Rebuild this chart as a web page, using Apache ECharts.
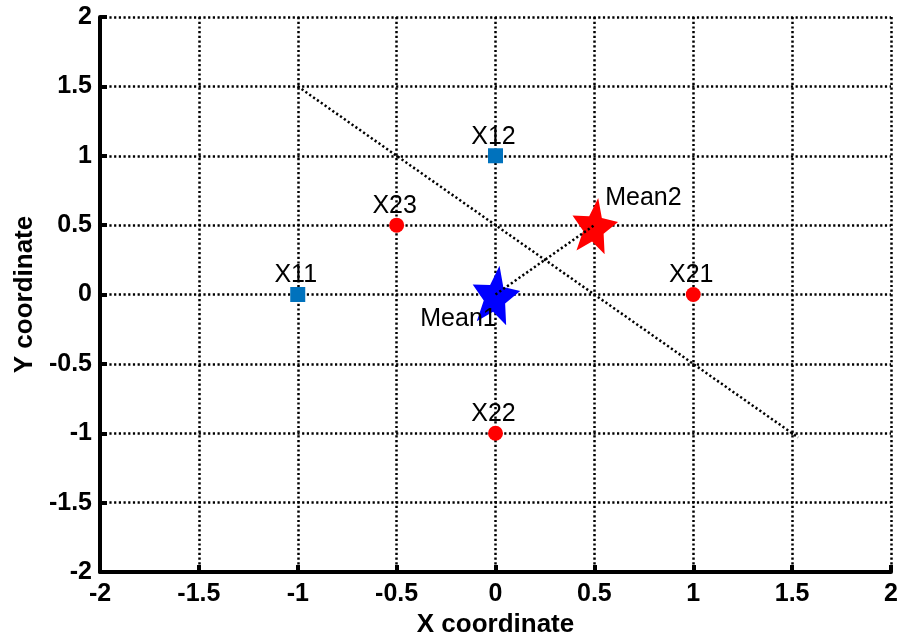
<!DOCTYPE html>
<html>
<head>
<meta charset="utf-8">
<script src="https://cdn.jsdelivr.net/npm/echarts@6/dist/echarts.min.js"></script>
<style>
  html, body { margin: 0; padding: 0; background: #fff; }
  #chart { width: 901px; height: 638px; }
</style>
</head>
<body>
<div id="chart"></div>
<script>
// Class 1 samples (blue squares)
const class1X = [-1, 0];
const class1Y = [0, 1];
const class1Names = ['X11', 'X12'];

// Class 2 samples (red circles)
const class2X = [1, 0, -0.5];
const class2Y = [0, -1, 0.5];
const class2Names = ['X21', 'X22', 'X23'];

// Class means
const mean1 = [0, 0];
const mean2 = [0.5, 0.5];

// Decision boundary segment (x + y = 0.5)
const boundaryX = [-1, 1.53];
const boundaryY = [1.5, -1.03];

// Axis ticks
const xTicks = [-2, -1.5, -1, -0.5, 0, 0.5, 1, 1.5, 2];
const yTicks = [-2, -1.5, -1, -0.5, 0, 0.5, 1, 1.5, 2];

const FONT = 'Liberation Sans, Arial, sans-serif';

// Filled five-pointed star outline as an SVG path
function starPath(inner) {
  const pts = [];
  for (let i = 0; i < 10; i++) {
    const r = i % 2 === 0 ? 1 : inner;
    const a = -Math.PI / 2 + i * Math.PI / 5;
    pts.push((r * Math.cos(a)).toFixed(4) + ',' + (r * Math.sin(a)).toFixed(4));
  }
  return 'path://M' + pts.join('L') + 'Z';
}
const STAR = starPath(0.45);

const dotted = { color: '#000', width: 2.5, type: [2.2, 2.5], cap: 'butt' };

const pointLabel = {
  show: true,
  position: 'inside',
  offset: [-2, -19],
  color: '#000',
  fontFamily: FONT,
  fontSize: 25,
  formatter: p => p.data[2]
};

const chart = echarts.init(document.getElementById('chart'));
chart.setOption({
  animation: false,
  backgroundColor: '#fff',
  grid: { left: 100, right: 10, top: 17, bottom: 66, outerBoundsMode: 'none', containLabel: false },
  xAxis: {
    type: 'value',
    min: xTicks[0], max: xTicks[xTicks.length - 1], interval: 0.5,
    name: 'X coordinate',
    nameLocation: 'middle',
    nameGap: 36,
    nameTextStyle: { color: '#000', fontFamily: FONT, fontSize: 26, fontWeight: 'bold' },
    axisLine: { show: true, onZero: false, lineStyle: { color: '#000', width: 4 } },
    axisTick: { show: true, inside: true, length: 7, lineStyle: { color: '#000', width: 4 } },
    axisLabel: {
      color: '#000', fontFamily: FONT, fontSize: 25, fontWeight: 'bold', margin: 10,
      formatter: v => String(v)
    },
    splitLine: { show: true, lineStyle: dotted }
  },
  yAxis: {
    type: 'value',
    min: yTicks[0], max: yTicks[yTicks.length - 1], interval: 0.5,
    name: 'Y coordinate',
    nameLocation: 'middle',
    nameGap: 60,
    nameRotate: 90,
    nameTextStyle: { color: '#000', fontFamily: FONT, fontSize: 26, fontWeight: 'bold' },
    axisLine: { show: true, onZero: false, lineStyle: { color: '#000', width: 4 } },
    axisTick: { show: true, inside: true, length: 7, lineStyle: { color: '#000', width: 4 } },
    axisLabel: {
      color: '#000', fontFamily: FONT, fontSize: 25, fontWeight: 'bold', margin: 8,
      formatter: v => String(v)
    },
    splitLine: { show: true, lineStyle: dotted }
  },
  series: [
    {
      name: 'Class 1',
      type: 'scatter',
      symbol: 'rect',
      symbolSize: 15,
      itemStyle: { color: '#0072BD', opacity: 1 },
      label: pointLabel,
      data: class1X.map((x, i) => [x, class1Y[i], class1Names[i]]),
      z: 3
    },
    {
      name: 'Class 2',
      type: 'scatter',
      symbol: 'circle',
      symbolSize: 15,
      itemStyle: { color: '#FF0000', opacity: 1 },
      label: pointLabel,
      data: class2X.map((x, i) => [x, class2Y[i], class2Names[i]]),
      z: 3
    },
    {
      name: 'Mean1',
      type: 'scatter',
      symbol: STAR,
      symbolSize: [48, 58],
      symbolRotate: -8,
      itemStyle: { color: '#0000FF', opacity: 1 },
      label: {
        show: true, position: 'inside', offset: [-37, 25],
        color: '#000', fontFamily: FONT, fontSize: 25,
        formatter: 'Mean1'
      },
      data: [[mean1[0], mean1[1]]],
      z: 3
    },
    {
      name: 'Mean2',
      type: 'scatter',
      symbol: STAR,
      symbolSize: [46, 55],
      symbolRotate: -8,
      itemStyle: { color: '#FF0000', opacity: 1 },
      label: {
        show: true, position: 'inside', offset: [49, -27],
        color: '#000', fontFamily: FONT, fontSize: 25,
        formatter: 'Mean2'
      },
      data: [[mean2[0], mean2[1]]],
      z: 3
    },
    {
      name: 'Boundary',
      type: 'line',
      symbol: 'none',
      lineStyle: dotted,
      data: boundaryX.map((x, i) => [x, boundaryY[i]]),
      z: 5
    },
    {
      name: 'Mean link',
      type: 'line',
      symbol: 'none',
      lineStyle: dotted,
      data: [mean1, mean2],
      z: 5
    }
  ]
});
</script>
</body>
</html>
